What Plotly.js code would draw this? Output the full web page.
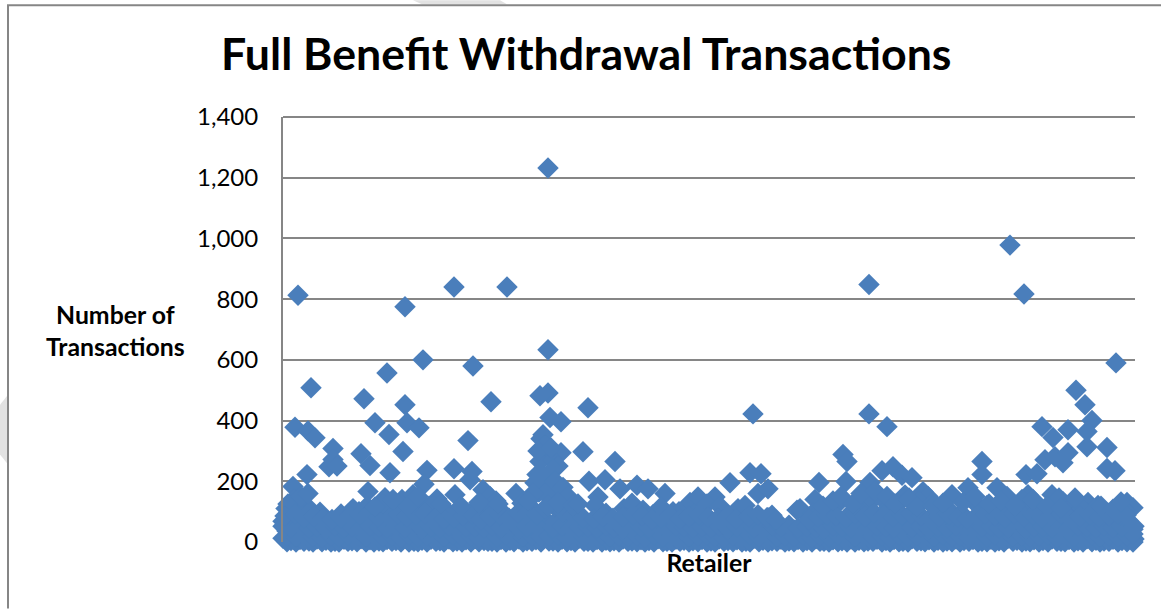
<!DOCTYPE html>
<html><head><meta charset="utf-8">
<script src="https://cdn.plot.ly/plotly-3.0.1.min.js"></script>
<style>html,body{margin:0;padding:0;background:#fff}</style></head>
<body><div id="chart" style="width:1161px;height:609px"></div>
<script>
const titleText = "Full Benefit Withdrawal Transactions";
const yTitle = "Number of<br>Transactions";
const xTitle = "Retailer";
const yTicks = [0,200,400,600,800,1000,1200,1400];

const highRetailer = [15,28,12,25,32,50,50,46,54,24,10,81,78,87,92,104,106,107,122,122,124,120,136,140,144,141,171,171,172,185,190,189,187,208,224,200,207,233,265,265,265,257,267,278,260,258,305,300,278,264,257,254,270,262,275,306,322,332,315,337,354,365,382,390,407,415,432,447,470,467,478,475,485,514,452,464,485,586,586,604,560,564,563,536,517,532,599,610,619,629,587,622,640,645,669,685,699,699,714,724,745,769,780,794,805,743,754,759,770,785,802,809,804,804,824,824,832,762,772,785,780,793,727,741,833,844,850];
const highValue = [813,508,378,366,343,308,272,248,250,222,183,472,291,252,393,557,354,228,775,452,393,298,376,600,236,190,840,241,156,334,580,232,205,462,840,172,150,160,1232,633,491,482,410,396,353,340,442,297,294,290,265,222,270,200,250,200,205,265,148,175,187,175,160,100,130,148,148,195,422,228,225,160,175,105,90,97,80,848,422,380,288,265,199,196,110,140,235,248,220,212,196,155,166,150,156,179,265,222,179,150,156,156,133,130,130,222,225,380,344,370,452,400,364,314,311,242,235,271,281,294,261,500,978,817,590,130,113];

const rowAx = [0,8,17,26,34,43,52,61,69,78,87,96,104,113,122,131,139,148,157,166,174,183,192,201,209,218,227,236,244,253,270,279,288,296,305,314,323,331,340,349,358,366,375,384,393,401,410,419,428,436,445,454,463,471,480,489,498,506,515,524,533,541,550,559,568,576,585,594,603,611,620,629,638,646,655,664,673,681,690,699,708,716,725,734,743,751,760,769,778,786,795,804,813,821,830,839,848,851];
const rowAv = [12,5,8,3,10,6,2,9,4,11,7,3,8,5,12,2,6,9,4,10,3,7,11,5,2,8,6,10,4,7,3,9,5,12,2,8,6,4,10,3,7,5,11,2,9,6,4,8,3,10,5,7,2,12,6,4,9,3,8,5,11,2,7,4,10,6,3,9,5,8,2,11,4,7,6,3,10,5,8,2,9,4,12,6,3,7,5,10,2,8,4,11,6,3,9,5,14,10];
const rowBx = [4,13,21,30,39,48,56,65,74,83,91,100,109,118,126,135,144,153,161,170,179,188,196,205,214,223,231,240,249,258,266,275,284,292,301,310,319,327,336,345,354,362,371,380,389,397,406,415,424,432,441,450,459,467,476,485,494,502,511,520,529,537,546,555,564,572,581,590,599,607,616,625,634,642,651,660,669,677,686,695,704,712,721,730,739,747,756,765,774,782,791,800,809,817,826,835,844,850];
const rowBv = [36,30,38,28,35,32,40,29,36,33,27,39,31,36,28,34,40,30,37,32,29,38,33,27,35,40,31,36,29,34,38,30,33,27,37,32,39,29,35,31,28,36,40,33,30,37,28,34,32,39,29,36,31,33,27,38,30,35,40,29,34,31,37,28,36,33,30,39,27,35,32,38,29,34,31,36,28,40,33,30,37,29,35,32,38,27,34,31,36,30,39,28,33,37,32,29,35,42];
const rowCx = [0,9,18,27,36,44,53,62,71,79,88,97,106,114,123,132,141,149,158,167,176,184,193,202,211,219,228,237,246,254,263,272,281,289,298,307,316,324,333,342,351,359,368,377,386,394,403,412,421,429,438,447,456,464,473,482,491,521,530,538,547,556,565,573,582,591,600,608,617,626,635,643,652,661,670,678,687,696,705,713,722,731,740,748,757,766,775,783,792,801,810,818,827,836,845];
const rowCv = [68,62,70,58,65,60,55,64,57,62,68,60,66,58,64,70,59,63,67,56,62,69,58,64,60,66,55,62,68,59,72,64,60,66,58,63,69,57,62,65,59,68,61,56,64,60,67,58,63,66,55,62,59,64,68,57,52,55,60,66,58,64,62,69,57,63,60,67,59,65,61,56,64,68,58,62,66,60,57,63,69,61,58,65,60,64,56,62,68,59,63,66,60,64,70];
const rowDx = [3,11,20,28,37,58,76,84,93,102,111,119,128,137,146,154,163,181,195,204,213,222,239,247,256,266,274,283,312,323,341,349,360,370,378,396,411,424,437,455,462,489,530,546,556,571,579,590,597,606,615,626,636,650,664,677,690,704,720,730,739,749,760,776,788,799,815,825,836,842,5,18,25,70,85,102,117,130,150,160];
const rowDv = [110,140,125,105,98,92,100,118,112,135,125,140,100,132,118,142,105,96,120,110,135,90,128,118,165,185,150,130,120,95,110,128,105,90,115,100,92,125,118,110,120,88,95,112,130,105,120,140,150,115,125,145,135,130,112,90,135,120,125,100,140,120,105,145,100,110,120,95,100,105,125,150,160,110,166,146,123,156,120,100];
const rowZv = [1,0,2,0,1,0,0,2,1,0,0,1,2,0,0,1,0,2,0,1,0,0,1,2,0,0,1,0,2,0,3,0,1,0,2,0,0,1,0,2,1,0,0,1,0,2,0,1,0,0,2,1,0,0,1,0,2,0,1,0,0,2,0,1,0,0,1,2,0,0,1,0,2,1,0,0,1,0,2,0,1,0,0,2,0,1,0,0,2,1,0,0,1,0,2,0,1,0];
const rowEv = [20,16,22,18,15,21,17,24,19,16,22,18,20,15,23,17,21,19,16,24,18,20,15,22,17,23,19,16,21,18,20,24,15,22,17,19,23,16,20,18,21,15,24,17,22,19,16,20,23,18,15,21,19,24,17,22,16,20,18,23,15,21,17,24,19,16,22,18,20,15,23,17,21,19,16,24,18,20,15,22,17,23,19,16,21,18,20,24,15,22,17,19,23,16,20,18,21,26];
const rowFv = [52,48,55,46,50,44,53,47,51,45,54,49,46,52,48,55,44,50,47,53,45,51,49,46,54,48,52,44,50,55,47,53,45,49,51,46,54,48,44,52,50,47,55,45,53,49,46,51,48,54,44,50,52,47,45,53,49,55,46,51,48,44,54,50,47,52,45,53,49,46,55,48,51,44,50,47,54,52,45,49,53,46,48,55,44,51,50,47,52,45,54,49,46,53,48,50,55,52];
const rowGx = [2,12,21,31,40,49,58,67,77,86,95,105,115,124,133,142,152,161,171,180,189,198,207,217,226,235,245,254,262,272,280,290,300,311,320,330,340,350,359,369,378,387,397,406,416,425,435,445,453,466,475,484,493,526,535,544,553,563,572,582,591,601,610,619,628,638,647,656,666,675,684,694,702,712,722,731,741,750,759,768,778,787,797,807,816,826,835,843];
const rowGv = [86,92,80,84,78,74,80,88,90,95,82,88,92,84,90,94,78,76,80,86,92,74,84,90,78,96,98,90,110,115,100,88,80,76,84,78,82,90,86,74,80,88,76,84,90,82,78,88,76,84,90,80,72,74,82,90,86,80,92,84,96,88,82,90,94,86,78,84,90,82,76,88,92,86,80,94,84,90,80,88,92,78,84,90,82,86,92,88];
const rowHx = [262,255,268,270,258,252,262,272,280,285,250,265,275,290,245,295,100,110,125,135,540,550,558,570,578,592,604,612,626,634,650,660,680,692,706,718,732,750,764,778,792,818,830,838,92,158,178,196,215];
const rowHv = [320,300,310,240,225,195,160,200,180,150,160,120,130,120,135,125,125,140,118,150,118,135,150,125,160,168,150,125,140,115,118,128,130,150,125,135,120,140,118,112,145,118,108,132,115,125,118,130,125];

const seriesX = [...highRetailer, ...rowAx, ...rowBx, ...rowCx, ...rowDx, ...rowBx, ...rowBx, ...rowAx, ...rowGx, ...rowHx];
const seriesY = [...highValue, ...rowAv, ...rowBv, ...rowCv, ...rowDv, ...rowZv, ...rowEv, ...rowFv, ...rowGv, ...rowHv];

const W = 852, H = 425.5, L = 283, B = 66.5;
const px = x => (x - L) / W;
const py = y => (609 - B - y) / H;
const layout = {
  width:1161, height:609, showlegend:false,
  paper_bgcolor:"#fff", plot_bgcolor:"rgba(0,0,0,0)",
  margin:{l:L,r:26,t:117,b:B,pad:0},
  font:{family:"Lato, 'Open Sans', sans-serif",color:"#000"},
  title:{text:titleText,font:{size:44.7,family:"Lato, sans-serif",weight:700,color:"#000"},x:0.505,xanchor:"center",y:0.91,yanchor:"middle"},
  xaxis:{range:[0,852],showgrid:false,zeroline:false,showticklabels:false,ticks:"",showline:false,
    title:{text:xTitle,font:{size:24.8,weight:700,family:"Lato, sans-serif"},standoff:12}},
  yaxis:{range:[0,1400],tickvals:yTicks,tickformat:",d",tickfont:{size:24,family:"Lato, sans-serif"},
    showgrid:true,gridcolor:"#868686",gridwidth:2,zeroline:false,showline:true,linecolor:"#868686",linewidth:2,ticks:"",ticklabelstandoff:18},
  shapes:[
    {type:"path",xref:"paper",yref:"paper",layer:"below",line:{width:0},fillcolor:"#e2e2e2",
     path:`M ${px(0)} ${py(405)} L ${px(8)} ${py(395)} L ${px(8)} ${py(465)} L ${px(0)} ${py(455)} Z`},
    {type:"path",xref:"paper",yref:"paper",layer:"below",line:{width:0},fillcolor:"#e2e2e2",
     path:`M ${px(413)} ${py(0)} L ${px(500)} ${py(0)} L ${px(507)} ${py(4)} L ${px(422)} ${py(4)} Z`},
    {type:"line",xref:"paper",yref:"paper",layer:"below",x0:px(8),x1:px(8),y0:py(609),y1:py(5),line:{color:"#868686",width:2}},
    {type:"line",xref:"paper",yref:"paper",layer:"below",x0:px(7),x1:px(1161),y0:py(5),y1:py(5),line:{color:"#868686",width:2}},
    {type:"line",xref:"paper",yref:"paper",layer:"below",x0:0,x1:1,y0:1,y1:1,line:{color:"#868686",width:2}}
  ],
  annotations:[{xref:"paper",yref:"paper",x:px(115),y:py(331),xanchor:"center",yanchor:"middle",showarrow:false,align:"center",
    text:"<b>"+yTitle+"</b>",font:{size:24.8,family:"Lato, sans-serif"}}]
};
const trace = {type:"scatter",mode:"markers",x:seriesX,y:seriesY,cliponaxis:false,
  marker:{symbol:"diamond",size:16.5,color:"#4a7ebb",line:{width:0}}};
Plotly.newPlot("chart",[trace],layout,{displayModeBar:false,staticPlot:true});
</script></body></html>
